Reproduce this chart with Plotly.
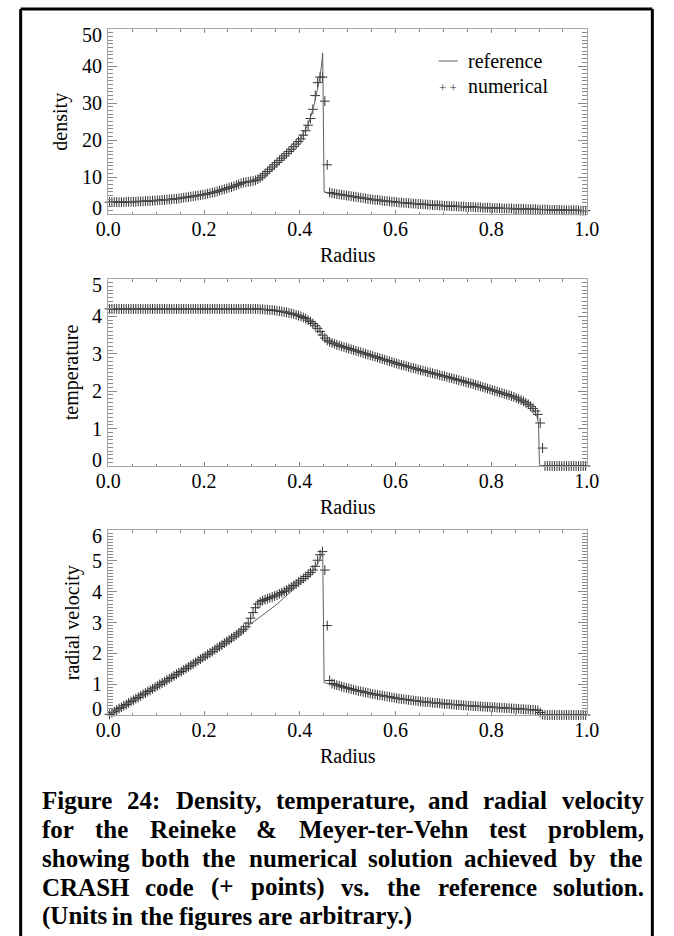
import numpy as np
import plotly.graph_objects as go

W, H = 674, 936
SERIF = "Liberation Serif, Times New Roman, serif"

# ---- numerical solution: 200 uniform zones on [0, 1] (cell centres) ----
radius = np.round(0.0025 + 0.005 * np.arange(200), 4)

density_num = [
    3.2, 3.2, 3.2, 3.2, 3.2, 3.2, 3.2, 3.3, 3.3, 3.3,
    3.3, 3.3, 3.4, 3.4, 3.4, 3.5, 3.5, 3.5, 3.6, 3.6,
    3.7, 3.7, 3.8, 3.8, 3.9, 3.9, 4.0, 4.1, 4.1, 4.2,
    4.3, 4.4, 4.5, 4.6, 4.7, 4.8, 4.9, 5.0, 5.1, 5.2,
    5.3, 5.5, 5.6, 5.8, 5.9, 6.1, 6.3, 6.5, 6.7, 6.9,
    7.1, 7.3, 7.5, 7.8, 8.0, 8.3, 8.5, 8.6, 8.7, 8.8,
    8.9, 9.1, 9.4, 9.8, 10.3, 10.9, 11.5, 12.1, 12.7, 13.3,
    13.9, 14.5, 15.1, 15.7, 16.3, 16.9, 17.5, 18.2, 18.9, 19.6,
    20.3, 21.3, 22.5, 24.0, 25.8, 28.3, 32.0, 35.5, 37.0, 37.0,
    30.5, 13.3, 5.8, 5.6, 5.5, 5.4, 5.3, 5.2, 5.1, 5.0,
    4.9, 4.8, 4.7, 4.6, 4.5, 4.4, 4.3, 4.2, 4.1, 4.0,
    3.9, 3.8, 3.8, 3.7, 3.6, 3.5, 3.5, 3.4, 3.3, 3.3,
    3.2, 3.1, 3.1, 3.0, 3.0, 2.9, 2.9, 2.8, 2.8, 2.7,
    2.7, 2.6, 2.6, 2.5, 2.5, 2.4, 2.4, 2.4, 2.3, 2.3,
    2.2, 2.2, 2.2, 2.1, 2.1, 2.1, 2.0, 2.0, 2.0, 1.9,
    1.9, 1.9, 1.9, 1.8, 1.8, 1.8, 1.7, 1.7, 1.7, 1.7,
    1.6, 1.6, 1.6, 1.6, 1.5, 1.5, 1.5, 1.5, 1.5, 1.4,
    1.4, 1.4, 1.4, 1.4, 1.3, 1.3, 1.3, 1.3, 1.3, 1.2,
    1.2, 1.2, 1.2, 1.2, 1.1, 1.1, 1.1, 1.1, 1.1, 1.1,
    1.0, 1.0, 1.0, 1.0, 1.0, 1.0, 1.0, 0.9, 0.9, 0.9,
]

temperature_num = [
    4.2, 4.2, 4.2, 4.2, 4.2, 4.2, 4.2, 4.2, 4.2, 4.2,
    4.2, 4.2, 4.2, 4.2, 4.2, 4.2, 4.2, 4.2, 4.2, 4.2,
    4.2, 4.2, 4.2, 4.2, 4.2, 4.2, 4.2, 4.2, 4.2, 4.2,
    4.2, 4.2, 4.2, 4.2, 4.2, 4.2, 4.2, 4.2, 4.2, 4.2,
    4.2, 4.2, 4.2, 4.2, 4.2, 4.2, 4.2, 4.2, 4.2, 4.2,
    4.2, 4.2, 4.2, 4.2, 4.2, 4.2, 4.2, 4.2, 4.2, 4.2,
    4.2, 4.2, 4.2, 4.19, 4.19, 4.18, 4.18, 4.17, 4.17, 4.16,
    4.15, 4.14, 4.13, 4.12, 4.11, 4.09, 4.08, 4.06, 4.04, 4.02,
    4.00, 3.97, 3.94, 3.90, 3.86, 3.81, 3.75, 3.68, 3.60, 3.50,
    3.42, 3.36, 3.32, 3.29, 3.27, 3.24, 3.22, 3.20, 3.18, 3.16,
    3.14, 3.12, 3.10, 3.08, 3.06, 3.04, 3.02, 3.00, 2.98, 2.96,
    2.94, 2.92, 2.90, 2.88, 2.86, 2.84, 2.82, 2.80, 2.78, 2.76,
    2.74, 2.72, 2.70, 2.69, 2.67, 2.65, 2.63, 2.62, 2.60, 2.58,
    2.56, 2.55, 2.53, 2.51, 2.50, 2.48, 2.46, 2.45, 2.43, 2.41,
    2.40, 2.38, 2.36, 2.35, 2.33, 2.31, 2.29, 2.28, 2.26, 2.24,
    2.22, 2.21, 2.19, 2.17, 2.15, 2.13, 2.11, 2.09, 2.07, 2.05,
    2.03, 2.01, 1.99, 1.97, 1.95, 1.93, 1.91, 1.89, 1.87, 1.85,
    1.82, 1.79, 1.76, 1.73, 1.69, 1.65, 1.60, 1.54, 1.47, 1.38,
    1.15, 0.48, 0.0, 0.0, 0.0, 0.0, 0.0, 0.0, 0.0, 0.0,
    0.0, 0.0, 0.0, 0.0, 0.0, 0.0, 0.0, 0.0, 0.0, 0.0,
]

velocity_num = [
    0.02, 0.07, 0.11, 0.16, 0.21, 0.25, 0.30, 0.34, 0.39, 0.44,
    0.48, 0.53, 0.57, 0.62, 0.67, 0.71, 0.76, 0.80, 0.85, 0.90,
    0.94, 0.99, 1.04, 1.08, 1.13, 1.18, 1.22, 1.27, 1.32, 1.37,
    1.41, 1.46, 1.51, 1.56, 1.61, 1.66, 1.71, 1.76, 1.81, 1.86,
    1.91, 1.96, 2.01, 2.06, 2.12, 2.17, 2.22, 2.27, 2.33, 2.38,
    2.43, 2.49, 2.54, 2.60, 2.66, 2.72, 2.78, 2.86, 2.98, 3.14,
    3.32, 3.48, 3.60, 3.67, 3.71, 3.74, 3.77, 3.80, 3.83, 3.86,
    3.89, 3.93, 3.97, 4.01, 4.05, 4.10, 4.15, 4.20, 4.25, 4.31,
    4.37, 4.43, 4.49, 4.55, 4.62, 4.70, 4.82, 5.02, 5.20, 5.30,
    4.70, 2.90, 1.12, 1.02, 1.00, 0.97, 0.95, 0.92, 0.90, 0.88,
    0.86, 0.84, 0.82, 0.80, 0.78, 0.77, 0.75, 0.73, 0.72, 0.70,
    0.68, 0.67, 0.65, 0.64, 0.63, 0.61, 0.60, 0.59, 0.57, 0.56,
    0.54, 0.53, 0.52, 0.51, 0.50, 0.49, 0.48, 0.47, 0.46, 0.45,
    0.44, 0.43, 0.42, 0.42, 0.41, 0.40, 0.39, 0.39, 0.38, 0.37,
    0.36, 0.36, 0.35, 0.34, 0.34, 0.33, 0.33, 0.32, 0.31, 0.31,
    0.30, 0.30, 0.29, 0.29, 0.28, 0.28, 0.27, 0.27, 0.26, 0.26,
    0.25, 0.25, 0.24, 0.24, 0.23, 0.23, 0.22, 0.22, 0.21, 0.21,
    0.20, 0.20, 0.19, 0.19, 0.18, 0.18, 0.17, 0.17, 0.16, 0.15,
    0.08, 0.01, 0.0, 0.0, 0.0, 0.0, 0.0, 0.0, 0.0, 0.0,
    0.0, 0.0, 0.0, 0.0, 0.0, 0.0, 0.0, 0.0, 0.0, 0.0,
]

# ---- reference (semi-analytic) solution ----
density_ref_r = [0.0, 0.05, 0.1, 0.15, 0.2, 0.25, 0.28, 0.3, 0.32, 0.34, 0.36, 0.38,
                 0.40, 0.42, 0.43, 0.44, 0.445, 0.448, 0.451, 0.47, 0.5, 0.55, 0.6,
                 0.65, 0.7, 0.75, 0.8, 0.85, 0.9, 0.95, 1.0]
density_ref = [3.2, 3.3, 3.6, 4.2, 5.2, 6.9, 8.3, 8.8, 9.4, 11.6, 14.3, 17.1,
               19.9, 25.0, 29.5, 35.5, 39.5, 43.5, 6.0, 5.5, 4.9, 4.0, 3.2,
               2.7, 2.2, 1.9, 1.6, 1.4, 1.2, 1.0, 0.9]

temperature_ref_r = [0.0, 0.30, 0.35, 0.38, 0.40, 0.42, 0.43, 0.44, 0.45, 0.455, 0.46,
                     0.48, 0.50, 0.60, 0.70, 0.80, 0.85, 0.87, 0.88, 0.89, 0.895,
                     0.899, 0.901, 1.0]
temperature_ref = [4.2, 4.2, 4.17, 4.10, 4.01, 3.88, 3.79, 3.66, 3.47, 3.39, 3.34,
                   3.23, 3.14, 2.74, 2.40, 2.04, 1.84, 1.72, 1.62, 1.48, 1.36,
                   1.15, 0.0, 0.0]

velocity_ref_r = [0.0, 0.1, 0.2, 0.28, 0.3, 0.35, 0.4, 0.43, 0.44, 0.448, 0.451, 0.47,
                  0.5, 0.6, 0.7, 0.8, 0.85, 0.895, 0.9, 0.905, 1.0]
velocity_ref = [0.0, 0.91, 1.91, 2.76, 2.98, 3.56, 4.26, 4.73, 4.98, 5.30, 1.05, 0.97,
                0.84, 0.54, 0.36, 0.25, 0.20, 0.15, 0.12, 0.0, 0.0]

x_ticks = [0.0, 0.2, 0.4, 0.6, 0.8, 1.0]
x_tick_text = ["0.0", "0.2", "0.4", "0.6", "0.8", "1.0"]
density_ticks = [0, 10, 20, 30, 40, 50]
temperature_ticks = [0, 1, 2, 3, 4, 5]
velocity_ticks = [0, 1, 2, 3, 4, 5, 6]

panels = [
    # quantity label, major ticks, minor step, numerical, ref r, ref values
    ("density", density_ticks, 1, density_num, density_ref_r, density_ref),
    ("temperature", temperature_ticks, 0.1, temperature_num, temperature_ref_r, temperature_ref),
    ("radial velocity", velocity_ticks, 0.1, velocity_num, velocity_ref_r, velocity_ref),
]

# pixel layout of the three plot boxes (top, bottom) and the common x extent
boxes = [(29, 214), (279, 466), (530, 715)]
X0, X1 = 100, 597
ytitle_x = [50, 62, 63]


def fx(px):
    return px / W


def fy(py):
    return 1 - py / H


AXIS_GREY = "#a6a6a6"
TICK_GREY = "#8a8a8a"
tickfont = dict(family=SERIF, size=20, color="black")

fig = go.Figure()
layout = dict(
    width=W, height=H, margin=dict(l=0, r=0, t=0, b=0),
    paper_bgcolor="white", plot_bgcolor="white", showlegend=False,
    font=dict(family=SERIF, color="black"),
)
annotations = []
shapes = []

for i, (label, yticks, minor, num, rr, rv) in enumerate(panels):
    n = "" if i == 0 else str(i + 1)
    top, bot = boxes[i]
    layout["xaxis" + n] = dict(
        domain=[fx(X0), fx(X1)], anchor="y" + n, range=[0, 1],
        tickvals=x_ticks, ticktext=x_tick_text,
        ticks="inside", ticklen=4, tickwidth=1, tickcolor=TICK_GREY,
        minor=dict(dtick=0.05, tick0=0, ticks="inside", ticklen=2.5,
                   tickwidth=1, tickcolor=TICK_GREY),
        showline=True, linecolor=AXIS_GREY, linewidth=1, mirror="ticks",
        showgrid=False, zeroline=False, tickfont=tickfont,
        ticklabelstandoff=-3,
    )
    layout["yaxis" + n] = dict(
        domain=[fy(bot), fy(top)], anchor="x" + n, range=[yticks[0], yticks[-1]],
        tickvals=yticks, showticklabels=False,
        ticks="inside", ticklen=9, tickwidth=1, tickcolor=TICK_GREY,
        minor=dict(dtick=minor, tick0=0, ticks="inside", ticklen=4.5,
                   tickwidth=1, tickcolor=TICK_GREY),
        showline=True, linecolor=AXIS_GREY, linewidth=1, mirror="ticks",
        showgrid=False, zeroline=False,
    )
    # y tick labels; the two end labels sit just inside the axis span
    for j, v in enumerate(yticks):
        shift = 6 if j == 0 else (-6 if j == len(yticks) - 1 else 0)
        annotations.append(dict(
            text=str(v), x=0, y=v, xref="x" + n, yref="y" + n,
            xanchor="right", yanchor="middle", xshift=-5, yshift=shift,
            showarrow=False, borderpad=0, font=tickfont,
        ))
    # numerical zones as + symbols, reference curve on top
    fig.add_trace(go.Scatter(
        x=radius, y=num, mode="markers", xaxis="x" + n, yaxis="y" + n,
        marker=dict(symbol="cross-thin", size=7, color="#333333",
                    line=dict(width=1, color="#333333")),
        cliponaxis=False, hoverinfo="skip",
    ))
    fig.add_trace(go.Scatter(
        x=rr, y=rv, mode="lines", xaxis="x" + n, yaxis="y" + n,
        line=dict(color="#5e5e5e", width=1), cliponaxis=False, hoverinfo="skip",
    ))
    # axis titles
    annotations.append(dict(
        text=label, x=fx(ytitle_x[i]), y=fy((top + bot) / 2), xref="paper", yref="paper",
        textangle=-90, showarrow=False, xanchor="center", yanchor="middle",
        font=dict(family=SERIF, size=20, color="black"),
    ))
    annotations.append(dict(
        text="Radius", x=fx((X0 + X1) / 2), y=fy(bot + 41), xref="paper", yref="paper",
        showarrow=False, xanchor="center", yanchor="middle",
        font=dict(family=SERIF, size=20, color="black"),
    ))

# legend of the density panel
shapes.append(dict(type="line", xref="paper", yref="paper",
                   x0=fx(443), x1=fx(463), y0=fy(61), y1=fy(61),
                   line=dict(color="#5e5e5e", width=1)))
annotations.append(dict(text="reference", x=fx(471), y=fy(61), xref="paper", yref="paper",
                        showarrow=False, xanchor="left", yanchor="middle",
                        font=dict(family=SERIF, size=20, color="black")))
annotations.append(dict(text="+ +", x=fx(453), y=fy(87), xref="paper", yref="paper",
                        showarrow=False, xanchor="center", yanchor="middle",
                        font=dict(family=SERIF, size=13, color="#333333")))
annotations.append(dict(text="numerical", x=fx(471), y=fy(86), xref="paper", yref="paper",
                        showarrow=False, xanchor="left", yanchor="middle",
                        font=dict(family=SERIF, size=20, color="black")))

# ---- caption, bold serif, fully justified ----
caption_lines = [
    "Figure 24: Density, temperature, and radial velocity",
    "for the Reineke & Meyer-ter-Vehn test problem,",
    "showing both the numerical solution achieved by the",
    "CRASH code (+ points) vs. the reference solution.",
    "(Units in the figures are arbitrary.)",
]
# advance widths of the bold serif face, in 1/1000 em
adv = {' ': 250, 'a': 500, 'b': 556, 'c': 444, 'd': 556, 'e': 444, 'f': 333, 'g': 500,
       'h': 556, 'i': 278, 'j': 333, 'k': 556, 'l': 278, 'm': 833, 'n': 556, 'o': 500,
       'p': 556, 'q': 556, 'r': 444, 's': 389, 't': 333, 'u': 556, 'v': 500, 'w': 722,
       'x': 500, 'y': 500, 'z': 444, 'A': 722, 'C': 722, 'D': 722, 'F': 611, 'H': 778,
       'M': 944, 'R': 722, 'S': 556, 'U': 722, 'V': 722, ':': 333, ',': 250, '.': 250,
       '&': 833, '-': 333, '(': 333, ')': 333, '+': 570}
CAP_SIZE = 25
CAP_LEFT, CAP_RIGHT = 30, 652
CAP_Y0, CAP_DY = 800, 29


def text_width(s):
    return sum(adv.get(c, 500) for c in s) * CAP_SIZE / 1000.0


for k, line in enumerate(caption_lines):
    words = line.split(" ")
    widths = [text_width(w) for w in words]
    if k < len(caption_lines) - 1:
        gap = (CAP_RIGHT - CAP_LEFT - sum(widths)) / (len(words) - 1)
    else:
        gap = text_width(" ") + 1.5
    xpos = CAP_LEFT
    for w, wd in zip(words, widths):
        annotations.append(dict(
            text="<b>" + w.replace("&", "&amp;") + "</b>", x=fx(xpos), y=fy(CAP_Y0 + k * CAP_DY),
            xref="paper", yref="paper", showarrow=False, xanchor="left", yanchor="middle",
            borderpad=0, font=dict(family=SERIF, size=CAP_SIZE, color="black"),
        ))
        xpos += wd + gap

# outer frame (left, top, right)
for (xa, ya, xb, yb) in [(9, 9, 9, 940), (9, 9, 665, 9), (665, 9, 665, 940)]:
    shapes.append(dict(type="line", xref="paper", yref="paper",
                       x0=fx(xa), y0=fy(ya), x1=fx(xb), y1=fy(yb),
                       line=dict(color="black", width=3)))

layout["annotations"] = annotations
layout["shapes"] = shapes
fig.update_layout(**layout)
fig.write_html("out.html")
